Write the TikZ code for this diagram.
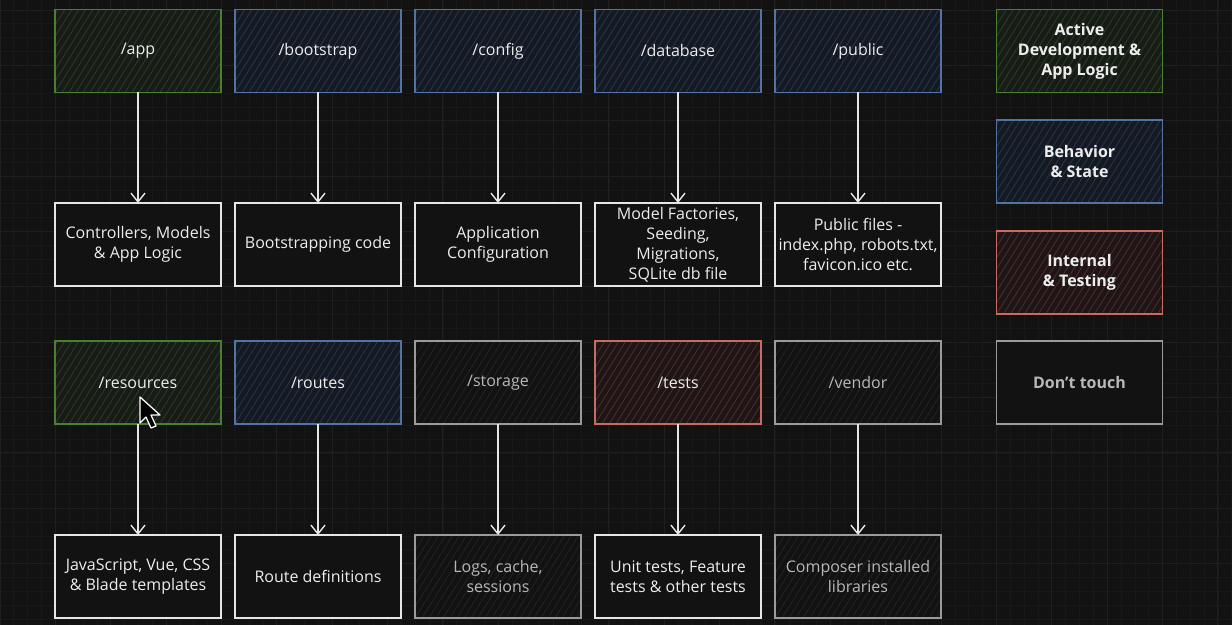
\documentclass[tikz,border=0pt]{standalone}
\usepackage{fontspec}
\setmainfont{Open Sans}
\usetikzlibrary{arrows.meta}
\definecolor{bgcol}{HTML}{121212}
\definecolor{gridminor}{HTML}{181818}
\definecolor{gridmajor}{HTML}{1F1F1F}
\definecolor{greenline}{HTML}{4A7E32}
\definecolor{greenhatch}{HTML}{2B3A26}
\definecolor{greenfill}{HTML}{181C17}
\definecolor{blueline}{HTML}{5373A3}
\definecolor{bluehatch}{HTML}{26344B}
\definecolor{bluefill}{HTML}{151A22}
\definecolor{redline}{HTML}{C56C64}
\definecolor{redhatch}{HTML}{4D2B28}
\definecolor{redfill}{HTML}{1E1616}
\definecolor{grayline}{HTML}{9B9B9B}
\definecolor{grayhatch}{HTML}{222222}
\definecolor{whiteline}{HTML}{E6E6E6}
\definecolor{txtwhite}{HTML}{EDEDED}
\definecolor{txtgray}{HTML}{B8B8B8}
\begin{document}
\begin{tikzpicture}[x=0.02cm,y=-0.02cm,
  box/.style={draw,line width=0.9pt,minimum width=3.32cm,minimum height=1.66cm,
    inner sep=1pt,outer sep=0pt,align=center,text=txtwhite,
    font=\fontsize{9.1}{11.4}\selectfont},
  hatch/.style={path picture={
    \foreach \k in {-9,...,25}
      \draw[#1,line width=0.5pt] ([xshift=\k*0.14cm]path picture bounding box.south west) -- ++(58:2.2cm);}},
  greenbox/.style={box,draw=greenline,fill=greenfill,hatch=greenhatch},
  bluebox/.style={box,draw=blueline,fill=bluefill,hatch=bluehatch},
  redbox/.style={box,draw=redline,fill=redfill,hatch=redhatch},
  graybox/.style={box,draw=grayline,fill=bgcol,hatch=grayhatch,text=txtgray},
  whitebox/.style={box,draw=whiteline,fill=bgcol},
  legend/.style={font=\fontsize{9.1}{11.4}\selectfont\bfseries},
  link/.style={draw=whiteline,line width=0.8pt,-{Straight Barb[length=5pt,width=8pt]}}]
\useasboundingbox (0,0) rectangle (1232,625);
\fill[bgcol] (0,0) rectangle (1232,625);
% grid
\begin{scope}
\clip (0,0) rectangle (1232,625);
\foreach \i in {0,...,89} \draw[gridminor,line width=0.4pt] (\i*13.84,0) -- (\i*13.84,625);
\foreach \i in {0,...,46} \draw[gridminor,line width=0.4pt] (0,\i*13.84-3.84) -- (1232,\i*13.84-3.84);
\foreach \i in {0,...,22} \draw[gridmajor,line width=0.5pt] (\i*55.35,0) -- (\i*55.35,625);
\foreach \i in {0,...,11} \draw[gridmajor,line width=0.5pt] (0,\i*55.35-45.35) -- (1232,\i*55.35-45.35);
\end{scope}
% folders, first row
\node[greenbox] (app) at (138,51) {/app};
\node[bluebox] (bootstrap) at (318,51) {/bootstrap};
\node[bluebox] (config) at (498,51) {/config};
\node[bluebox] (database) at (678,51) {/database};
\node[bluebox] (public) at (858,51) {/public};
\node[whitebox] (appdesc) at (138,244.5) {Controllers, Models\\\& App Logic};
\node[whitebox] (bootstrapdesc) at (318,244.5) {Bootstrapping code};
\node[whitebox] (configdesc) at (498,244.5) {Application\\Configuration};
\node[whitebox] (databasedesc) at (678,244.5) {Model Factories,\\Seeding,\\Migrations,\\SQLite db file};
\node[whitebox] (publicdesc) at (858,244.5) {Public files -\\index.php, robots.txt,\\favicon.ico etc.};
% folders, second row
\node[greenbox] (resources) at (138,382.5) {/resources};
\node[bluebox] (routes) at (318,382.5) {/routes};
\node[graybox] (storage) at (498,382.5) {/storage};
\node[redbox] (tests) at (678,382.5) {/tests};
\node[graybox] (vendor) at (858,382.5) {/vendor};
\node[whitebox] (resourcesdesc) at (138,576.5) {JavaScript, Vue, CSS\\\& Blade templates};
\node[whitebox] (routesdesc) at (318,576.5) {Route definitions};
\node[graybox] (storagedesc) at (498,576.5) {Logs, cache,\\sessions};
\node[whitebox] (testsdesc) at (678,576.5) {Unit tests, Feature\\tests \& other tests};
\node[graybox] (vendordesc) at (858,576.5) {Composer installed\\libraries};
% legend
\node[greenbox,legend] (lgactive) at (1079.5,51) {Active\\Development \&\\App Logic};
\node[bluebox,legend] (lgbehavior) at (1079.5,161.5) {Behavior\\\& State};
\node[redbox,legend] (lginternal) at (1079.5,272.5) {Internal\\\& Testing};
\node[box,draw=grayline,fill=bgcol,text=txtgray,legend] (lgdont) at (1079.5,382.5) {Don't touch};
% arrows
\draw[link] (app) -- (appdesc);
\draw[link] (bootstrap) -- (bootstrapdesc);
\draw[link] (config) -- (configdesc);
\draw[link] (database) -- (databasedesc);
\draw[link] (public) -- (publicdesc);
\draw[link] (resources) -- (resourcesdesc);
\draw[link] (routes) -- (routesdesc);
\draw[link] (storage) -- (storagedesc);
\draw[link] (tests) -- (testsdesc);
\draw[link] (vendor) -- (vendordesc);
% mouse pointer
\filldraw[fill=black,draw=white,line width=0.7pt,line join=round]
  (140,397) -- ++(0,26) -- ++(6,-6) -- ++(5,11) -- ++(5,-2) -- ++(-5,-11) -- ++(9,0) -- cycle;
\end{tikzpicture}
\end{document}
